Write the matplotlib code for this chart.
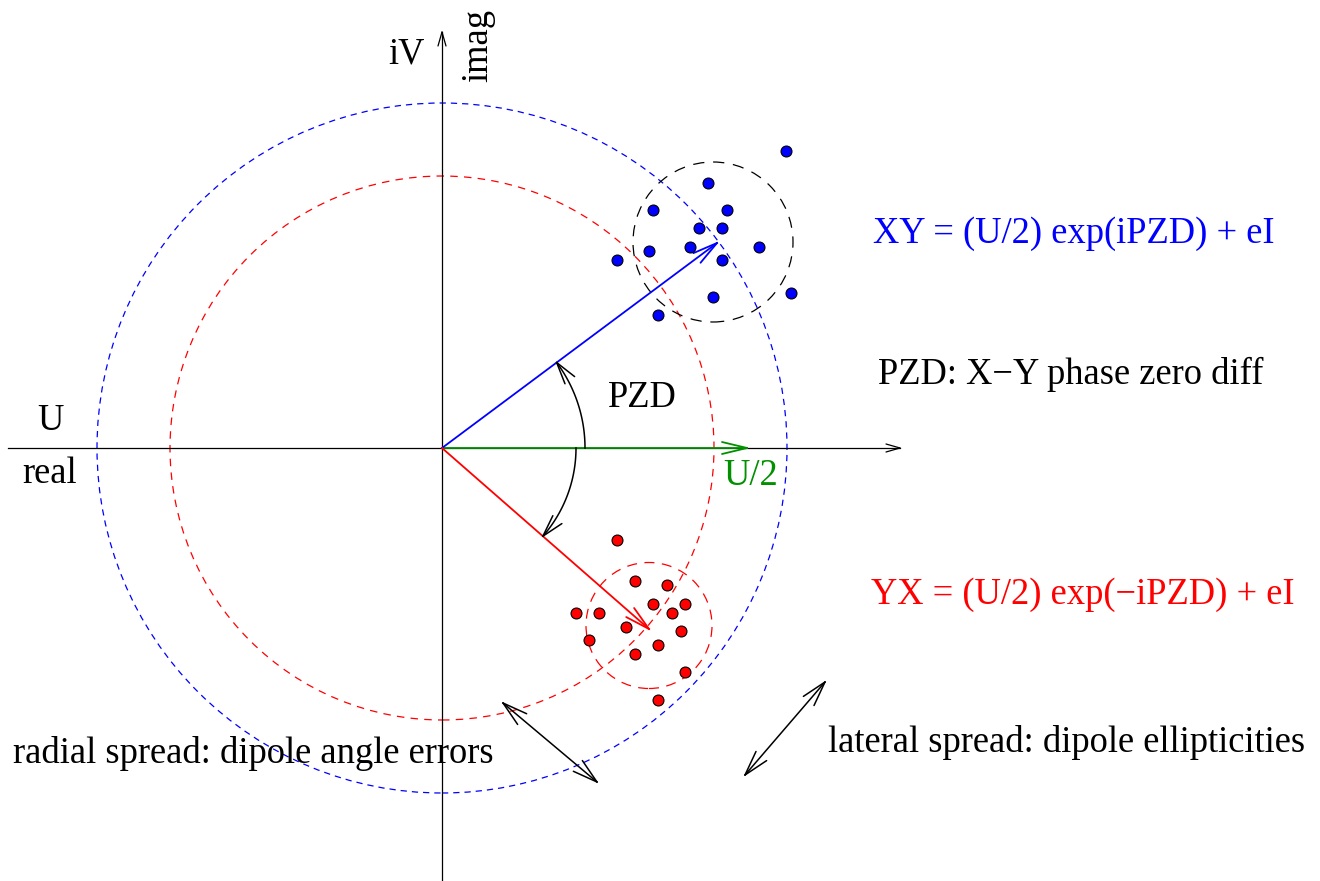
import numpy as np
import matplotlib
matplotlib.use("Agg")
import matplotlib.pyplot as plt
from matplotlib.patches import Circle

# ---- data (pixel-like units, origin at the axes crossing, y up) ----
blue_x = [344, 266, 211, 285, 257, 280, 248, 207, 317, 175, 280, 349, 271, 216]
blue_y = [297, 265, 238, 238, 220, 220, 201, 197, 201, 188, 188, 155, 151, 133]
red_x = [175, 193, 225, 211, 243, 230, 134, 157, 184, 239, 216, 147, 193, 243, 216]
red_y = [-92, -133, -137, -156, -156, -165, -165, -165, -179, -183, -197, -192, -206, -224, -252]

xy_vec = (275, 205)      # XY vector tip
yx_vec = (207, -181)     # YX vector tip
u2_vec = (305, 0)        # U/2 vector tip
r_blue = 345             # |XY| circle
r_red = 272              # |YX| circle
xy_spread = ((271, 206), 80)
yx_spread = ((207, -177.5), 63)
arc_r_up = 143
arc_r_dn = 134
radial_arrow = ((61, -255), (155, -334))
lateral_arrow = ((383, -234), (303, -327))

BLUE = "#0000ff"
RED = "#ff0000"
GREEN = "#009000"
FONT = "Liberation Serif"
FS = 26.3

fig = plt.figure(figsize=(13.2, 8.81), dpi=100)
ax = fig.add_axes([0, 0, 1, 1])
ax.set_xlim(-442, 878)
ax.set_ylim(-433, 448)
ax.set_aspect("equal")
ax.axis("off")


def head(tip, direction, length, half, color, lw):
    d = np.asarray(direction, float)
    d = d / np.hypot(*d)
    n = np.array([-d[1], d[0]])
    t = np.asarray(tip, float)
    base = t - d * length
    for s in (1, -1):
        p = base + s * n * half
        ax.plot([p[0], t[0]], [p[1], t[1]], color=color, lw=lw, solid_capstyle="round")


def arrow(p0, p1, color, lw, length, half, both=False):
    ax.plot([p0[0], p1[0]], [p0[1], p1[1]], color=color, lw=lw)
    head(p1, (p1[0] - p0[0], p1[1] - p0[1]), length, half, color, lw)
    if both:
        head(p0, (p0[0] - p1[0], p0[1] - p1[1]), length, half, color, lw)


# axes
arrow((-434, 0), (458, 0), "black", 0.9, 14, 4)
arrow((0, -433), (0, 416), "black", 0.9, 14, 4)

# dashed circles
ax.add_patch(Circle((0, 0), r_blue, fill=False, ec=BLUE, lw=0.9, ls=(0, (5, 4))))
ax.add_patch(Circle((0, 0), r_red, fill=False, ec=RED, lw=0.9, ls=(0, (6, 5))))
ax.add_patch(Circle(xy_spread[0], xy_spread[1], fill=False, ec="black", lw=0.9, ls=(0, (9, 7))))
ax.add_patch(Circle(yx_spread[0], yx_spread[1], fill=False, ec=RED, lw=0.9, ls=(0, (8, 6))))

# vectors
arrow((0, 0), u2_vec, GREEN, 1.3, 25, 6)
arrow((0, 0), xy_vec, BLUE, 1.3, 25, 6)
arrow((0, 0), yx_vec, RED, 1.3, 25, 6)

# angle arcs
a_up = np.arctan2(xy_vec[1], xy_vec[0])
t = np.linspace(0, a_up, 100)
ax.plot(arc_r_up * np.cos(t), arc_r_up * np.sin(t), color="black", lw=1.1)
tip = (arc_r_up * np.cos(a_up), arc_r_up * np.sin(a_up))
head(tip, (-np.sin(a_up), np.cos(a_up)), 22, 6, "black", 1.1)

a_dn = np.arctan2(yx_vec[1], yx_vec[0])
t = np.linspace(0, a_dn, 100)
ax.plot(arc_r_dn * np.cos(t), arc_r_dn * np.sin(t), color="black", lw=1.1)
tip = (arc_r_dn * np.cos(a_dn), arc_r_dn * np.sin(a_dn))
head(tip, (np.sin(a_dn), -np.cos(a_dn)), 22, 6, "black", 1.1)

# scatter points
ax.scatter(blue_x, blue_y, s=62, c=BLUE, edgecolors="black", linewidths=0.8, zorder=5)
ax.scatter(red_x, red_y, s=62, c=RED, edgecolors="black", linewidths=0.8, zorder=5)

# spread arrows
arrow(radial_arrow[0], radial_arrow[1], "black", 1.1, 25, 7, both=True)
arrow(lateral_arrow[0], lateral_arrow[1], "black", 1.1, 25, 7, both=True)

# texts
def txt(x, y, s, color="black", **kw):
    ax.text(x, y, s, color=color, fontsize=FS, family=FONT, ha="left", va="baseline", **kw)

txt(-54, 385, "iV")
ax.text(36, 403, "imag", rotation=90, fontsize=FS, family=FONT, ha="center", va="center")
txt(-405, 18, "U")
txt(-420, -35, "real")
txt(166, 41, "PZD")
txt(281, -37, "U/2", color=GREEN)
txt(431, 205, "XY = (U/2) exp(iPZD) + eI", color=BLUE)
txt(436, 64, "PZD: X\u2212Y phase zero diff")
txt(429, -156, "YX = (U/2) exp(\u2212iPZD) + eI", color=RED)
txt(-429, -315, "radial spread: dipole angle errors")
txt(386, -304, "lateral spread: dipole ellipticities")

fig.savefig("out.png", dpi=100, facecolor="white")
